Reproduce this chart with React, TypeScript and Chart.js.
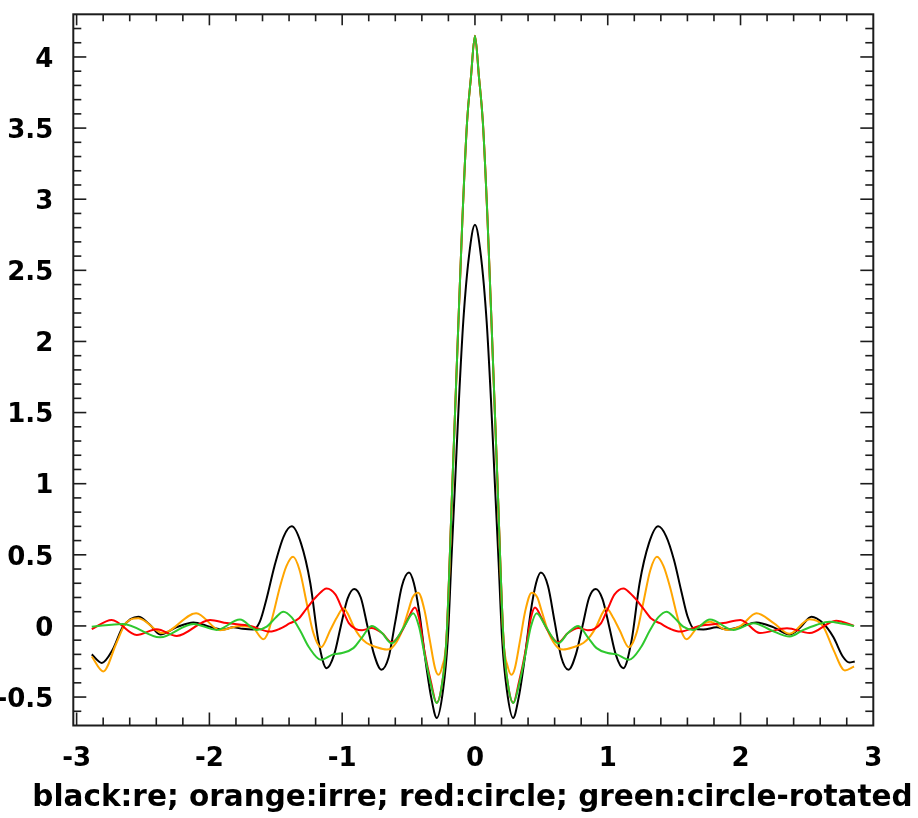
import { useEffect, useRef } from 'react';
import { Chart, registerables } from 'chart.js';

Chart.register(...registerables);

const FONT = "'DejaVu Sans', 'Liberation Sans', sans-serif";

const titleText = 'black:re; orange:irre; red:circle; green:circle-rotated';
const xMajorTicks = [-3, -2, -1, 0, 1, 2, 3];
const yMajorTicks = [-0.5, 0, 0.5, 1, 1.5, 2, 2.5, 3, 3.5, 4];
const xLimits = [-3.025, 3];
const yLimits = [-0.7, 4.3];
const xMinorStep = 0.2;
const yMinorStep = 0.1;

// black: re
const blackCurve: [number, number][] = [
  [-2.886, -0.2], [-2.81, -0.26], [-2.73, -0.17], [-2.65, -0.005], [-2.535, 0.065], [-2.45, 0.01],
  [-2.37, -0.06], [-2.25, -0.01], [-2.12, 0.025], [-2.0, -0.005], [-1.9, -0.025], [-1.82, -0.01],
  [-1.75, -0.02], [-1.67, -0.025], [-1.62, 0.03], [-1.57, 0.19], [-1.51, 0.42], [-1.44, 0.63],
  [-1.38, 0.7], [-1.31, 0.58], [-1.24, 0.3], [-1.18, -0.1], [-1.117, -0.297], [-1.06, -0.2],
  [-1.01, 0.0], [-0.96, 0.19], [-0.91, 0.26], [-0.86, 0.2], [-0.81, 0.0], [-0.76, -0.2],
  [-0.705, -0.308], [-0.65, -0.22], [-0.6, 0.03], [-0.55, 0.28], [-0.497, 0.375], [-0.46, 0.3],
  [-0.42, 0.1], [-0.37, -0.26], [-0.33, -0.5], [-0.287, -0.647], [-0.24, -0.45], [-0.205, -0.1],
  [-0.178, 0.45], [-0.15, 1.0], [-0.12, 1.6], [-0.088, 2.14], [-0.045, 2.6], [0, 2.82],
  [0.045, 2.6], [0.088, 2.14], [0.12, 1.6], [0.15, 1.0], [0.178, 0.45], [0.205, -0.1],
  [0.24, -0.45], [0.287, -0.647], [0.33, -0.5], [0.37, -0.26], [0.42, 0.1], [0.46, 0.3],
  [0.497, 0.375], [0.55, 0.28], [0.6, 0.03], [0.65, -0.22], [0.705, -0.308], [0.76, -0.2],
  [0.81, 0.0], [0.86, 0.2], [0.91, 0.26], [0.96, 0.19], [1.01, 0.0], [1.06, -0.2],
  [1.117, -0.297], [1.18, -0.1], [1.24, 0.3], [1.31, 0.58], [1.38, 0.7], [1.44, 0.63],
  [1.5, 0.46], [1.555, 0.24], [1.6, 0.07], [1.65, -0.02], [1.72, -0.025], [1.82, -0.01],
  [1.9, -0.025], [2.0, -0.005], [2.12, 0.025], [2.25, -0.01], [2.37, -0.06], [2.45, -0.01],
  [2.535, 0.065], [2.62, 0.02], [2.7, -0.08], [2.77, -0.215], [2.82, -0.257], [2.86, -0.25],
];

// orange: irre
const orangeCurve: [number, number][] = [
  [-2.886, -0.215], [-2.8, -0.32], [-2.7, -0.12], [-2.63, 0.02], [-2.535, 0.054], [-2.35, -0.05],
  [-2.1, 0.09], [-1.92, -0.03], [-1.77, 0.0], [-1.67, -0.016], [-1.595, -0.093], [-1.56, -0.05],
  [-1.52, 0.08], [-1.47, 0.27], [-1.42, 0.42], [-1.37, 0.486], [-1.32, 0.39], [-1.267, 0.16],
  [-1.22, -0.04], [-1.16, -0.15], [-1.09, -0.03], [-1.04, 0.06], [-0.99, 0.124], [-0.96, 0.09],
  [-0.916, 0.0], [-0.87, -0.07], [-0.816, -0.12], [-0.74, -0.15], [-0.665, -0.166], [-0.628, -0.156],
  [-0.56, -0.06], [-0.5, 0.112], [-0.47, 0.2], [-0.427, 0.234], [-0.38, 0.11], [-0.34, -0.1],
  [-0.3, -0.3], [-0.276, -0.343], [-0.245, -0.28], [-0.215, -0.1], [-0.17, 1.0], [-0.13, 2.0],
  [-0.095, 2.85], [-0.059, 3.55], [-0.03, 3.86], [0, 4.15],
  [0.03, 3.86], [0.059, 3.55], [0.095, 2.85], [0.13, 2.0], [0.17, 1.0], [0.215, -0.1],
  [0.245, -0.28], [0.276, -0.343], [0.3, -0.3], [0.34, -0.1], [0.38, 0.11], [0.427, 0.234],
  [0.47, 0.2], [0.5, 0.112], [0.56, -0.06], [0.628, -0.156], [0.665, -0.166], [0.74, -0.15],
  [0.816, -0.12], [0.87, -0.07], [0.916, 0.0], [0.96, 0.09], [0.99, 0.124], [1.04, 0.06],
  [1.09, -0.03], [1.16, -0.15], [1.22, -0.04], [1.267, 0.16], [1.32, 0.39], [1.37, 0.486],
  [1.42, 0.42], [1.47, 0.27], [1.52, 0.08], [1.56, -0.05], [1.595, -0.093], [1.67, -0.016],
  [1.77, 0.03], [1.895, -0.028], [2.0, 0.0], [2.12, 0.089], [2.25, 0.02], [2.37, -0.055],
  [2.52, 0.047], [2.62, 0.0], [2.7, -0.168], [2.786, -0.313], [2.855, -0.285],
];

// red: circle
const redCurve: [number, number][] = [
  [-2.886, -0.023], [-2.736, 0.042], [-2.547, -0.063], [-2.397, -0.023], [-2.246, -0.07], [-1.995, 0.042],
  [-1.87, 0.02], [-1.69, 0.0], [-1.544, -0.04], [-1.47, -0.02], [-1.393, 0.019], [-1.33, 0.05],
  [-1.267, 0.124], [-1.19, 0.21], [-1.117, 0.264], [-1.05, 0.22], [-1.0, 0.12], [-0.95, 0.02],
  [-0.9, -0.02], [-0.85, -0.03], [-0.78, -0.015], [-0.7, -0.05], [-0.628, -0.115], [-0.54, -0.02],
  [-0.5, 0.06], [-0.452, 0.13], [-0.42, 0.05], [-0.38, -0.18], [-0.33, -0.4], [-0.289, -0.54],
  [-0.25, -0.42], [-0.215, -0.1], [-0.17, 1.0], [-0.13, 2.0], [-0.095, 2.85], [-0.059, 3.55],
  [-0.03, 3.86], [0, 4.15],
  [0.03, 3.86], [0.059, 3.55], [0.095, 2.85], [0.13, 2.0], [0.17, 1.0], [0.215, -0.1],
  [0.25, -0.42], [0.289, -0.54], [0.33, -0.4], [0.38, -0.18], [0.42, 0.05], [0.452, 0.13],
  [0.5, 0.06], [0.54, -0.02], [0.628, -0.115], [0.7, -0.05], [0.78, -0.015], [0.85, -0.03],
  [0.9, -0.02], [0.95, 0.02], [1.0, 0.12], [1.05, 0.22], [1.117, 0.264], [1.19, 0.21],
  [1.267, 0.124], [1.33, 0.05], [1.393, 0.019], [1.47, -0.02], [1.544, -0.04], [1.69, 0.0],
  [1.87, 0.02], [2.0, 0.042], [2.146, -0.05], [2.35, -0.016], [2.52, -0.05], [2.72, 0.037],
  [2.855, 0.0],
];

// green: circle-rotated
const greenCurve: [number, number][] = [
  [-2.886, -0.005], [-2.65, 0.014], [-2.372, -0.08], [-2.12, 0.014], [-1.945, -0.028], [-1.77, 0.045],
  [-1.644, -0.028], [-1.568, -0.005], [-1.5, 0.06], [-1.443, 0.1], [-1.38, 0.06], [-1.318, -0.03],
  [-1.25, -0.15], [-1.16, -0.238], [-1.067, -0.2], [-1.0, -0.19], [-0.916, -0.156], [-0.85, -0.08],
  [-0.778, 0.0], [-0.7, -0.05], [-0.628, -0.122], [-0.53, 0.0], [-0.465, 0.09], [-0.42, -0.01],
  [-0.38, -0.2], [-0.33, -0.42], [-0.289, -0.542], [-0.25, -0.42], [-0.215, -0.1], [-0.17, 1.0],
  [-0.13, 2.0], [-0.095, 2.85], [-0.059, 3.55], [-0.03, 3.86], [0, 4.15],
  [0.03, 3.86], [0.059, 3.55], [0.095, 2.85], [0.13, 2.0], [0.17, 1.0], [0.215, -0.1],
  [0.25, -0.42], [0.289, -0.542], [0.33, -0.42], [0.38, -0.2], [0.42, -0.01], [0.465, 0.09],
  [0.53, 0.0], [0.628, -0.122], [0.7, -0.05], [0.778, 0.0], [0.85, -0.08], [0.916, -0.156],
  [1.0, -0.19], [1.067, -0.2], [1.16, -0.238], [1.25, -0.15], [1.318, -0.03], [1.38, 0.06],
  [1.443, 0.1], [1.5, 0.06], [1.568, -0.005], [1.644, -0.028], [1.77, 0.045], [1.945, -0.028],
  [2.1, 0.019], [2.23, -0.03], [2.37, -0.075], [2.47, -0.03], [2.57, 0.007], [2.67, 0.03],
  [2.77, 0.015], [2.855, 0.0],
];

const CANVAS_W = 945;
const CANVAS_H = 818;
const PLOT_LEFT = 73.3;
const PLOT_RIGHT = 873.3;
const PLOT_TOP = 14.3;
const PLOT_BOTTOM = 725.5;
const TITLE_SIZE = 29.5;
const TITLE_PAD_BOTTOM = 2.2;
const TITLE_H = TITLE_SIZE * 1.2 + TITLE_PAD_BOTTOM;
const X_AXIS_H = CANVAS_H - PLOT_BOTTOM - TITLE_H;

const toPoints = (arr: [number, number][]) => arr.map(([x, y]) => ({ x, y }));

const framePlugin = {
  id: 'idlFrame',
  afterDatasetsDraw(chart: any) {
    const { ctx, chartArea: a } = chart;
    const xs = chart.scales.x;
    const ys = chart.scales.y;
    ctx.save();
    ctx.strokeStyle = '#1c1c1c';
    ctx.lineWidth = 1.6;
    ctx.lineCap = 'butt';
    const seg = (x1: number, y1: number, x2: number, y2: number) => {
      ctx.beginPath();
      ctx.moveTo(x1, y1);
      ctx.lineTo(x2, y2);
      ctx.stroke();
    };
    const nx = Math.round((xMajorTicks[xMajorTicks.length - 1] - xMajorTicks[0]) / xMinorStep);
    for (let j = 0; j <= nx; j++) {
      const v = xMajorTicks[0] + j * xMinorStep;
      const px = xs.getPixelForValue(v);
      const major = j % 5 === 0;
      if (px > a.right - 1) continue;
      seg(px, a.bottom, px, a.bottom - (major ? 13 : 8));
      seg(px, a.top, px, a.top + (major ? 11 : 7));
    }
    const ny = Math.round((yLimits[1] - yLimits[0]) / yMinorStep);
    for (let j = 1; j < ny; j++) {
      const v = yLimits[0] + j * yMinorStep;
      const py = ys.getPixelForValue(v);
      const major = Math.abs(v * 2 - Math.round(v * 2)) < 1e-6;
      seg(a.left, py, a.left + (major ? 13 : 8), py);
      seg(a.right, py, a.right - (major ? 13 : 8), py);
    }
    ctx.lineWidth = 2;
    ctx.strokeRect(a.left, a.top, a.right - a.left, a.bottom - a.top);
    ctx.restore();
  },
};

const zeroPad = (s: any) => {
  s.paddingTop = 0;
  s.paddingBottom = 0;
  s.paddingLeft = 0;
  s.paddingRight = 0;
};

export default function App() {
  const ref = useRef<HTMLCanvasElement | null>(null);

  useEffect(() => {
    if (!ref.current) return;
    const common = {
      borderWidth: 2,
      pointRadius: 0,
      cubicInterpolationMode: 'monotone' as const,
      fill: false,
    };
    const tickFont = { family: FONT, weight: 'bold' as const, size: 26 };
    const chart = new Chart(ref.current, {
      type: 'line',
      data: {
        datasets: [
          { ...common, label: 're', data: toPoints(blackCurve), borderColor: '#000000', order: 4 },
          { ...common, label: 'irre', data: toPoints(orangeCurve), borderColor: '#ffa500', order: 3 },
          { ...common, label: 'circle', data: toPoints(redCurve), borderColor: '#ff0000', order: 2 },
          { ...common, label: 'circle-rotated', data: toPoints(greenCurve), borderColor: '#2ec82e', order: 1 },
        ],
      },
      options: {
        responsive: false,
        animation: false,
        layout: { padding: { left: 0, top: PLOT_TOP, right: 0, bottom: 0 } },
        plugins: {
          legend: { display: false },
          tooltip: { enabled: false },
          title: {
            display: true,
            position: 'bottom',
            text: titleText,
            color: '#000',
            font: { family: FONT, weight: 'bold', size: TITLE_SIZE },
            padding: { top: 0, bottom: TITLE_PAD_BOTTOM },
          },
        },
        scales: {
          x: {
            type: 'linear',
            min: xLimits[0],
            max: xLimits[1],
            grid: { display: false },
            border: { display: false },
            ticks: {
              color: '#000',
              font: tickFont,
              padding: 10,
              maxRotation: 0,
              autoSkip: false,
              callback: (v: any) => String(v),
            },
            afterBuildTicks: (s: any) => {
              s.ticks = xMajorTicks.map((v) => ({ value: v }));
            },
            afterFit: (s: any) => {
              s.height = X_AXIS_H;
              zeroPad(s);
            },
          },
          y: {
            type: 'linear',
            min: yLimits[0],
            max: yLimits[1],
            grid: { display: false },
            border: { display: false },
            ticks: {
              color: '#000',
              font: tickFont,
              padding: 12,
              labelOffset: 3,
              autoSkip: false,
              callback: (v: any) => String(v),
            },
            afterBuildTicks: (s: any) => {
              s.ticks = yMajorTicks.map((v) => ({ value: v }));
            },
            afterFit: (s: any) => {
              s.width = PLOT_LEFT;
              zeroPad(s);
            },
          },
          y2: {
            type: 'linear',
            position: 'right',
            grid: { display: false },
            border: { display: false },
            ticks: { display: false },
            afterFit: (s: any) => {
              s.width = CANVAS_W - PLOT_RIGHT;
              zeroPad(s);
            },
          },
        },
      },
      plugins: [framePlugin],
    });
    return () => chart.destroy();
  }, []);

  return (
    <div
      style={{
        position: 'absolute',
        left: 0,
        top: 0,
        width: 918,
        height: CANVAS_H,
        overflow: 'hidden',
        background: '#fff',
      }}
    >
      <canvas ref={ref} width={CANVAS_W} height={CANVAS_H} style={{ display: 'block' }} />
    </div>
  );
}
